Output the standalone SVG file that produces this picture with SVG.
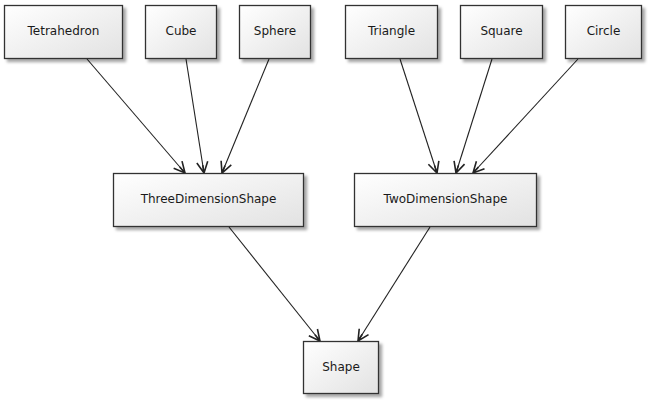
<svg xmlns="http://www.w3.org/2000/svg" width="648" height="400" viewBox="0 0 648 400">
<defs>
<linearGradient id="g" x1="0" y1="0" x2="1" y2="1">
<stop offset="0" stop-color="#ffffff"/>
<stop offset="1" stop-color="#e2e2e2"/>
</linearGradient>
<filter id="sh" x="-10%" y="-10%" width="130%" height="140%">
<feGaussianBlur in="SourceAlpha" stdDeviation="1.5"/>
<feOffset dx="3" dy="3" result="b"/>
<feComponentTransfer><feFuncA type="linear" slope="0.35"/></feComponentTransfer>
<feMerge><feMergeNode/><feMergeNode in="SourceGraphic"/></feMerge>
</filter>
<marker id="arr" markerWidth="14" markerHeight="14" refX="12" refY="7" orient="auto" markerUnits="userSpaceOnUse">
<path d="M1,1.5 L12,7 L1,12.5 M12,7 L4,7" fill="none" stroke="#222" stroke-width="1.6"/>
</marker>
</defs>
<style>
.box{fill:url(#g);stroke:#333;stroke-width:1.3;filter:url(#sh)}
.lbl{font-family:"DejaVu Sans",sans-serif;font-size:12px;fill:#1a1a1a;text-anchor:middle}
.c{stroke:#222;stroke-width:1.1;fill:none;marker-end:url(#arr)}
</style>
<rect width="648" height="400" fill="#ffffff"/>
<g id="connectors">
<line class="c" x1="87" y1="59" x2="185" y2="173"/>
<line class="c" x1="186" y1="59" x2="204" y2="173"/>
<line class="c" x1="269" y1="59" x2="222" y2="173"/>
<line class="c" x1="400" y1="59" x2="437" y2="173"/>
<line class="c" x1="492" y1="59" x2="456" y2="173"/>
<line class="c" x1="578" y1="59" x2="473" y2="173"/>
<line class="c" x1="229" y1="227" x2="320" y2="341"/>
<line class="c" x1="430" y1="227" x2="358" y2="341"/>
</g>
<g id="Tetrahedron"><rect class="box" x="4.5" y="5.5" width="118" height="53"/><text class="lbl" x="63.5" y="35">Tetrahedron</text></g>
<g id="Cube"><rect class="box" x="145.5" y="5.5" width="71" height="53"/><text class="lbl" x="181" y="35">Cube</text></g>
<g id="Sphere"><rect class="box" x="239.5" y="5.5" width="71" height="53"/><text class="lbl" x="275" y="35">Sphere</text></g>
<g id="Triangle"><rect class="box" x="345.5" y="5.5" width="92" height="53"/><text class="lbl" x="391.5" y="35">Triangle</text></g>
<g id="Square"><rect class="box" x="460.5" y="5.5" width="82" height="53"/><text class="lbl" x="501.5" y="35">Square</text></g>
<g id="Circle"><rect class="box" x="565.5" y="5.5" width="76" height="53"/><text class="lbl" x="603.5" y="35">Circle</text></g>
<g id="ThreeDimensionShape"><rect class="box" x="113.5" y="173.5" width="190" height="53"/><text class="lbl" x="208.5" y="203">ThreeDimensionShape</text></g>
<g id="TwoDimensionShape"><rect class="box" x="354.5" y="173.5" width="182" height="53"/><text class="lbl" x="445.5" y="203">TwoDimensionShape</text></g>
<g id="Shape"><rect class="box" x="303.5" y="341.5" width="75" height="52"/><text class="lbl" x="341" y="371">Shape</text></g>
</svg>
